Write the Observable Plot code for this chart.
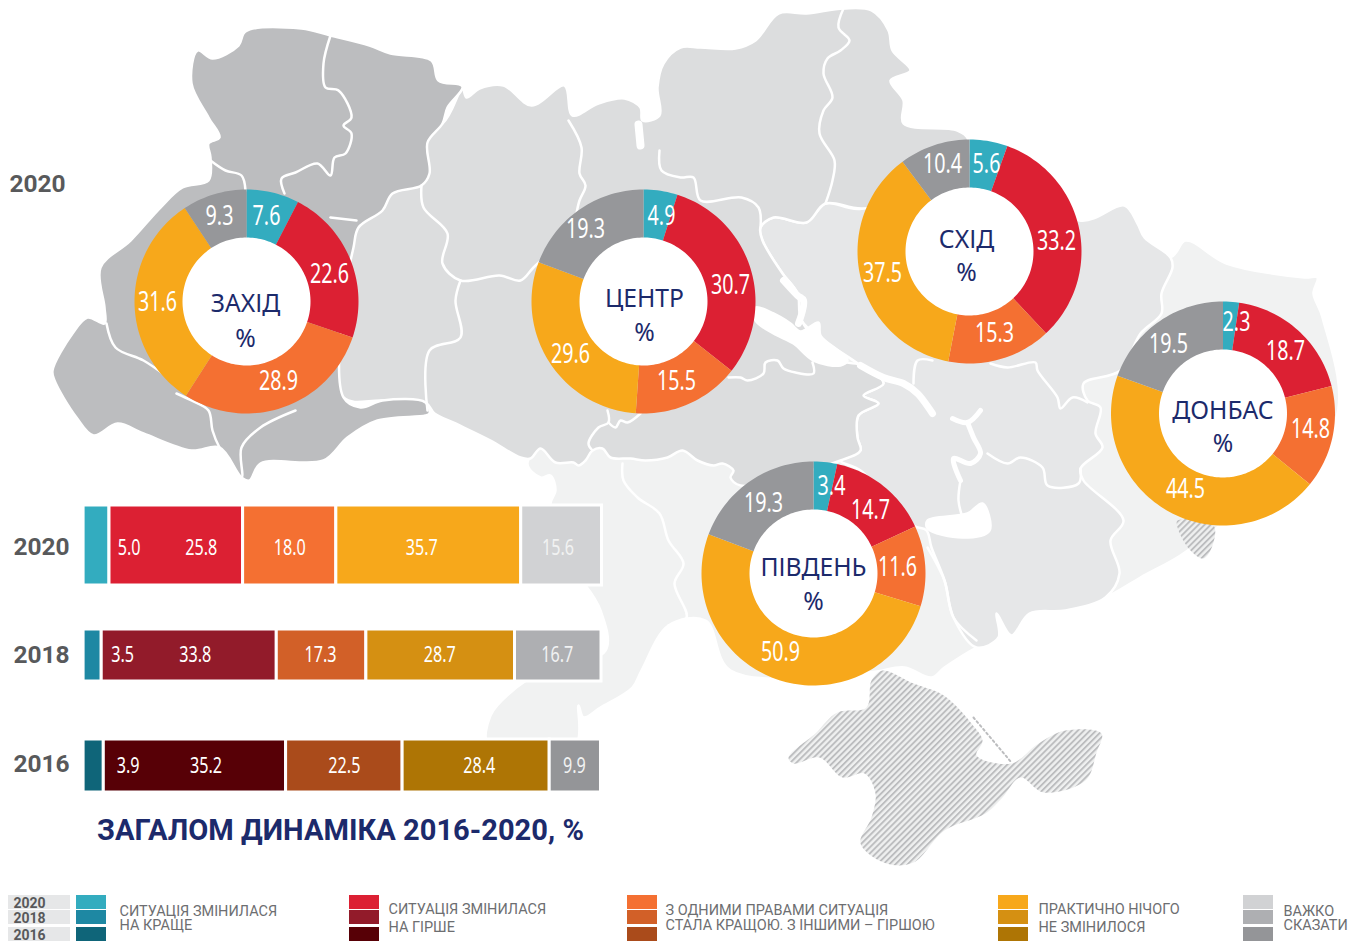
<!DOCTYPE html>
<html><head><meta charset="utf-8">
<script src="https://cdn.jsdelivr.net/npm/d3@7"></script>
<script src="https://cdn.jsdelivr.net/npm/@observablehq/plot@0.6"></script>
<style>
html,body{margin:0;padding:0;background:#fff}
#stage{position:relative;width:1361px;height:943px;overflow:hidden}
#stage svg{position:absolute;left:0;background:transparent;max-width:none}
</style></head><body><div id="stage"></div>
<script>
// ---------- values ----------
const categories = ["Краще","Гірше","Змішано","Не змінилося","Важко сказати"];
const regionNames = ["ЗАХІД","ЦЕНТР","СХІД","ДОНБАС","ПІВДЕНЬ"];
const westValues   = [7.6,22.6,28.9,31.6,9.3];
const centerValues = [4.9,30.7,15.5,29.6,19.3];
const eastValues   = [5.6,33.2,15.3,37.5,10.4];
const donbasValues = [2.3,18.7,14.8,44.5,19.5];
const southValues  = [3.4,14.7,11.6,50.9,19.3];
const years = ["2020","2018","2016"];
const bars2020 = [5.0,25.8,18.0,35.7,15.6];
const bars2018 = [3.5,33.8,17.3,28.7,16.7];
const bars2016 = [3.9,35.2,22.5,28.4,9.9];
const legendLines = [
 ["СИТУАЦІЯ ЗМІНИЛАСЯ","НА КРАЩЕ"],
 ["СИТУАЦІЯ ЗМІНИЛАСЯ","НА ГІРШЕ"],
 ["З ОДНИМИ ПРАВАМИ СИТУАЦІЯ","СТАЛА КРАЩОЮ. З ІНШИМИ – ГІРШОЮ"],
 ["ПРАКТИЧНО НІЧОГО","НЕ ЗМІНИЛОСЯ"],
 ["ВАЖКО","СКАЗАТИ"]];
const titleText = "ЗАГАЛОМ ДИНАМІКА 2016-2020, %";

// ---------- palette ----------
const colors2020 = ["#33acbf","#dc2033","#f47032","#f7a81b","#d1d2d4"];
const colors2018 = ["#1e88a3","#921b2a","#d26028","#d59012","#aeafb2"];
const colors2016 = ["#0f6579","#570006","#aa4b1b","#ae7505","#949598"];
const donutColors = ["#33acbf","#dc2033","#f47032","#f7a81b","#96979a"];

// ---------- map background, traced outlines ----------
const outlineAll = [[527,462],[540,477],[550,475],[555,490],[550,503],[560,560],[585,585],[600,610],[605,650],[540,672],[510,692],[490,715],[488,745],[575,745],[578,705],[583,717],[600,707],[632,687],[641,670],[668,625],[705,620],[730,670],[868,672],[904,667],[931,677],[944,667],[976,647],[998,637],[996,613],[1011,635],[1029,613],[1065,610],[1105,597],[1140,577],[1180,555],[1213,530],[1335,420],[1322,317],[1313,293],[1317,277],[1304,277],[1226,263],[1185,240],[1170,257],[800,300]];
const outlineEast = [[806,222],[825,203],[862,208],[968,140],[1079,220],[1124,205],[1137,223],[1144,237],[1170,257],[1172,267],[1161,293],[1161,313],[1140,333],[1120,370],[1083,383],[1087,400],[1100,407],[1095,433],[1102,447],[1080,468],[1083,480],[1123,520],[1110,540],[1119,573],[1105,597],[1065,610],[1029,613],[1011,635],[996,613],[998,637],[976,647],[953,617],[944,580],[931,547],[926,530],[913,525],[860,470],[840,460],[860,450],[857,437],[858,415],[878,403],[863,395],[883,383],[860,365],[801,320],[797,293],[782,273],[762,240],[760,227],[773,217]];
const outlineCenter = [[462,88],[466,97],[479,88],[503,85],[531,105],[564,85],[572,115],[598,103],[624,98],[640,107],[642,120],[659,115],[657,87],[663,63],[680,47],[700,47],[735,48],[755,40],[778,13],[806,13],[843,8],[871,10],[888,30],[892,50],[910,70],[890,80],[903,100],[903,123],[957,130],[968,140],[950,190],[862,208],[825,203],[806,222],[773,217],[760,227],[762,240],[782,273],[797,293],[801,320],[840,360],[862,365],[883,383],[863,395],[878,403],[858,415],[857,437],[860,450],[840,460],[740,485],[730,477],[733,470],[722,463],[713,465],[697,460],[682,450],[667,457],[645,460],[630,458],[610,457],[602,448],[592,450],[585,460],[578,465],[573,462],[555,462],[540,448],[530,458],[520,457],[490,440],[455,423],[434,413],[425,402],[382,400],[343,397],[330,300],[380,150],[442,123]];
const outlineWest = [[245,31],[301,28],[330,35],[369,45],[390,53],[431,60],[438,80],[462,86],[447,107],[442,123],[427,142],[429,173],[421,185],[392,193],[382,210],[358,227],[353,247],[343,300],[343,397],[360,407],[382,400],[425,402],[429,413],[425,415],[377,420],[347,437],[323,460],[260,463],[249,480],[241,477],[219,447],[191,450],[143,433],[117,423],[93,435],[76,417],[54,380],[52,370],[72,333],[87,317],[104,323],[104,307],[100,267],[130,240],[160,207],[182,187],[208,180],[210,157],[208,143],[219,137],[208,117],[191,83],[197,50],[212,58],[238,45]];
const outlineCrimea = [[871,680],[882,670],[913,683],[940,693],[953,703],[971,723],[982,740],[976,755],[1011,763],[1038,743],[1065,730],[1101,733],[1096,752],[1085,780],[1043,792],[1020,777],[1002,797],[985,813],[944,830],[913,862],[886,863],[860,843],[871,817],[875,793],[864,773],[842,777],[819,757],[793,763],[788,757],[815,733],[837,712],[866,707]];
const outlineOccupied = [[1177,520],[1213,525],[1212,545],[1203,558],[1190,550],[1178,530]];
const outlineReservoir = [[927,520],[967,513],[982,503],[989,530],[962,537],[927,528]];
const outlineKremenchuk = [[755,307],[773,313],[790,323],[800,331],[818,322],[820,335],[840,352],[847,360],[840,365],[813,360],[793,343],[773,333],[755,320]];
const bordersThin = [
 [[330,35],[323,63],[325,87],[338,90],[351,117],[343,125],[351,133],[345,153],[334,157],[330,175],[317,163],[295,172],[281,178],[284,193]],
 [[210,160],[225,170],[241,175],[245,190]],
 [[106,323],[115,347],[143,360],[165,375]],
 [[176,393],[191,400],[208,410],[212,430],[219,447],[241,477],[241,447],[260,427],[295,410]],
 [[330,217],[356,220]],
 [[568,120],[581,147],[579,173],[585,185],[579,200],[570,230],[533,267],[520,280],[499,275],[460,280],[442,263],[447,233],[423,207],[421,185]],
 [[460,280],[455,300],[460,337],[429,350],[427,410]],
 [[592,450],[588,443],[598,427],[608,422],[607,410]],
 [[608,422],[615,427],[620,420],[627,422],[640,413]],
 [[728,377],[740,377],[747,380],[763,373],[765,362],[777,360],[783,368],[795,372],[813,373],[812,362]],
 [[659,150],[661,170],[680,177],[693,177],[700,200],[741,197],[758,207],[760,227]],
 [[622,463],[623,480],[637,497],[659,513],[668,540],[683,563],[674,583],[686,617],[668,625]],
 [[843,8],[838,27],[849,40],[840,50],[827,58],[823,73],[832,97],[823,110],[819,133],[834,160],[832,180],[825,203]],
 [[913,383],[917,360],[932,360]],
 [[990,363],[1007,367],[1035,362],[1037,370],[1057,397],[1060,408],[1072,397],[1087,402]],
 [[960,480],[958,500],[962,517]],
 [[987,453],[1007,463],[1020,457],[1042,467],[1047,485],[1078,483],[1080,468]],
 [[927,547],[944,580],[953,617],[976,640]]
];
const riverLines = [
 {w:7,pts:[[783,280],[797,295],[803,300],[798,323]]},
 {w:7,pts:[[860,365],[883,377],[903,383],[917,393],[932,413]]},
 {w:5,pts:[[952,418],[967,422],[980,410]]},
 {w:5,pts:[[967,422],[973,437],[980,453],[970,463],[953,458],[960,480]]},
 {w:8,pts:[[638,124],[640,145]]}
];
const arabatSpit = [[973,717],[1011,762]];

// ---------- layout ----------
const W = 1361, H = 943, RO = 112, RI = 64;
const donutSpots = [[246,301],[643,301],[969,251],[1222.5,413],[813,573]];
const donutSeries = [westValues,centerValues,eastValues,donbasValues,southValues];
// offsets of the number labels from each ring's centre
const numberOffsets = [
 [[20,-85],[83,-27],[32,80],[-89,1],[-27,-85]],
 [[18,-85],[87,-16],[33,80],[-73,53],[-58,-72]],
 [[17,-87],[87,-10],[25,82],[-87,22],[-27,-87]],
 [[13.5,-91],[62.5,-62],[87.5,16],[-37.5,76],[-54.5,-69]],
 [[18,-87],[57,-63],[84,-6],[-33,79],[-50,-70]]
];
// offsets of the region name and the % sign from each ring's centre
const nameOffsets = [[[-1,2],[-1,37]],[[1,-3],[1,31]],[[-3,-12],[-3,21]],[[0,-3],[0,30]],[[0,-6],[0,28]]];
const numFont = "'Noto Sans','Open Sans',sans-serif";
const din = "Roboto,'Noto Sans',sans-serif";

// ---------- donut geometry from the values ----------
const slices = [], numbers = [], names = [];
donutSeries.forEach((vals,ri) => {
  const [cx,cy] = donutSpots[ri];
  d3.pie().sort(null)(vals).forEach((a,ci) => {
    const n = Math.max(4,Math.ceil((a.endAngle-a.startAngle)*30));
    const pts = [];
    for (let i=0;i<=n;i++){const t=a.startAngle+(a.endAngle-a.startAngle)*i/n;pts.push([cx+RO*Math.sin(t),cy-RO*Math.cos(t)]);}
    for (let i=n;i>=0;i--){const t=a.startAngle+(a.endAngle-a.startAngle)*i/n;pts.push([cx+RI*Math.sin(t),cy-RI*Math.cos(t)]);}
    pts.forEach(p=>slices.push({x:p[0],y:p[1],key:ri+"-"+ci,cat:categories[ci]}));
    numbers.push({x:cx+numberOffsets[ri][ci][0],y:cy+numberOffsets[ri][ci][1],t:vals[ci].toFixed(1)});
  });
  names.push({x:cx+nameOffsets[ri][0][0],y:cy+nameOffsets[ri][0][1],t:regionNames[ri]});
  names.push({x:cx+nameOffsets[ri][1][0],y:cy+nameOffsets[ri][1][1],t:"%"});
});

// narrows or widens drawn text around its own anchor
const squeeze = k => function(index,scales,values,dims,ctx,next){
  const g=next(index,scales,values,dims,ctx);
  d3.select(g).selectAll("text").attr("transform",function(){return (this.getAttribute("transform")||"")+` scale(${k},1)`;});
  return g;
};
const poly = (pts,fill) => Plot.line(pts,{x:d=>d[0],y:d=>d[1],curve:"catmull-rom-closed",fill,stroke:"#fff",strokeWidth:2.5,strokeLinejoin:"round"});
const hatchDefs = () => {
  const ns="http://www.w3.org/2000/svg";
  const g=document.createElementNS(ns,"g");
  g.innerHTML='<defs><pattern id="hatch" patternUnits="userSpaceOnUse" width="4.3" height="4.3" patternTransform="rotate(45)"><rect width="4.3" height="4.3" fill="#eff0f0"/><rect width="1.9" height="4.3" fill="#bcbdbf"/></pattern></defs>';
  return g;
};

// swatch rows
const swatchX = [76,349,627,998,1243];
const swatchW = 30;
const swatchY = [[895,909],[910,924],[927,941]];
const palettes = [colors2020,colors2018,colors2016];
const swatches = [];
categories.forEach((c,ci)=>years.forEach((y,yi)=>swatches.push({x1:swatchX[ci],x2:swatchX[ci]+swatchW,y1:swatchY[yi][0],y2:swatchY[yi][1],key:c+y})));
const colorDomain = categories.flatMap(c=>years.map(y=>c+y)).concat(categories);
const colorRange = categories.flatMap((c,ci)=>palettes.map(p=>p[ci])).concat(donutColors);

const legendTextX = [119,388,665,1038,1283];
const legendTextY = [[911,925],[909,927],[910,925],[909,927],[911,925]];
const legendTexts = legendLines.flatMap((ls,i)=>ls.map((t,j)=>({t,x:legendTextX[i],y:legendTextY[i][j]})));
const yearKeys = years.map((y,i)=>({t:y,x1:8,x2:70,y1:swatchY[i][0],y2:swatchY[i][1],x:29,y:(swatchY[i][0]+swatchY[i][1])/2+1}));
const bigYears = [{t:"2020",x:37,y:184},{t:"2020",x:41,y:547},{t:"2018",x:41,y:655},{t:"2016",x:41,y:764}];

const main = Plot.plot({
  width:W,height:H,margin:0,
  x:{domain:[0,W],range:[0,W],axis:null},
  y:{domain:[0,H],range:[0,H],axis:null},
  color:{domain:colorDomain,range:colorRange},
  style:{background:"transparent"},
  marks:[
    hatchDefs,
    poly(outlineAll,"#f1f2f2"),
    poly(outlineEast,"#e6e7e8"),
    poly(outlineCenter,"#dcddde"),
    poly(outlineWest,"#bcbdbf"),
    poly(outlineReservoir,"#fff"),
    poly(outlineKremenchuk,"#fff"),
    ...bordersThin.map(b=>Plot.line(b,{x:d=>d[0],y:d=>d[1],stroke:"#fff",strokeWidth:2.5,curve:"catmull-rom"})),
    ...riverLines.map(r=>Plot.line(r.pts,{x:d=>d[0],y:d=>d[1],stroke:"#fff",strokeWidth:r.w,curve:"catmull-rom"})),
    Plot.line(outlineCrimea,{x:d=>d[0],y:d=>d[1],curve:"catmull-rom-closed",fill:"url(#hatch)",stroke:"none"}),
    Plot.line(outlineOccupied,{x:d=>d[0],y:d=>d[1],curve:"catmull-rom-closed",fill:"url(#hatch)",stroke:"none"}),
    Plot.line(arabatSpit,{x:d=>d[0],y:d=>d[1],stroke:"#bcbdbf",strokeWidth:2,strokeDasharray:"2 3"}),
    Plot.dot(donutSpots,{x:d=>d[0],y:d=>d[1],r:RI+1,fill:"#fff",stroke:null}),
    Plot.line(slices,{x:"x",y:"y",z:"key",fill:"cat",stroke:null,curve:"linear-closed"}),
    Plot.text(numbers,{x:"x",y:"y",text:"t",fill:"#fff",fontSize:27,fontFamily:numFont,render:squeeze(0.73)}),
    Plot.text(names,{x:"x",y:"y",text:"t",fill:"#1c2a6b",fontSize:26,fontFamily:numFont,render:squeeze(0.95)}),
    Plot.text(bigYears,{x:"x",y:"y",text:"t",fill:"#58595b",fontSize:24.5,fontWeight:700,fontFamily:din}),
    Plot.text([titleText],{x:()=>340,y:()=>830,text:d=>d,fill:"#1c2a6b",fontSize:30,fontWeight:700,fontFamily:din,render:squeeze(0.97)}),
    Plot.rect(yearKeys,{x1:"x1",x2:"x2",y1:"y1",y2:"y2",fill:"#e6e7e8"}),
    Plot.text(yearKeys,{x:"x",y:"y",text:"t",fill:"#58595b",fontSize:14,fontWeight:700,fontFamily:din}),
    Plot.rect(swatches,{x1:"x1",x2:"x2",y1:"y1",y2:"y2",fill:"key"}),
    Plot.text(legendTexts,{x:"x",y:"y",text:"t",textAnchor:"start",fill:"#6d6e71",fontSize:14,fontFamily:din,render:squeeze(1.035)})
  ]
});
main.style.top="0";
document.getElementById("stage").appendChild(main);

// ---------- stacked bars, one plot for each year ----------
const barSeries = [bars2020,bars2018,bars2016];
const barTop = [504.5,628.5,738.5];
const barHeight = [80,52,53];
const labelNudge = [[32.5,25,0,-7,-3.7],[30,6,-1,-1,-1],[34.5,11,0,3,-1]];
const labelNudgeY = [3,0,0];
const labelColors = ["#fff","#fff","#fff","#fff","#f1f2f2"];
barSeries.forEach((vals,yi)=>{
  let s=0;
  const rows=vals.map((v,i)=>{const r={cat:categories[i],value:v,mid:s+v/2,nudge:labelNudge[yi][i],label:v.toFixed(1),lc:labelColors[i]};s+=v;return r;});
  const p=Plot.plot({
    width:W,height:barHeight[yi]+6,marginTop:3,marginBottom:3,marginLeft:0,marginRight:0,
    x:{domain:[0,100],range:[83.1,601],axis:null},
    color:{domain:categories,range:palettes[yi]},
    style:{background:"transparent"},
    marks:[
      Plot.barX(rows,Plot.stackX({x:"value",fill:"cat",order:null,stroke:"#fff",strokeWidth:3})),
      Plot.text(rows,{x:"mid",text:"label",fill:"#fff",fontSize:21,fontFamily:numFont,
        render(index,scales,values,dims,ctx,next){
          const g=next(index,scales,values,dims,ctx);
          d3.select(g).selectAll("text").each(function(d,i){
            const r=rows[index[i]];
            d3.select(this).attr("fill",r.lc).attr("transform",`translate(${scales.x(r.mid)+r.nudge},${dims.height/2+labelNudgeY[yi]}) scale(0.77,1)`);
          });
          return g;
        }})
    ]
  });
  p.style.top=(barTop[yi]-3)+"px";
  document.getElementById("stage").appendChild(p);
});
</script></body></html>
